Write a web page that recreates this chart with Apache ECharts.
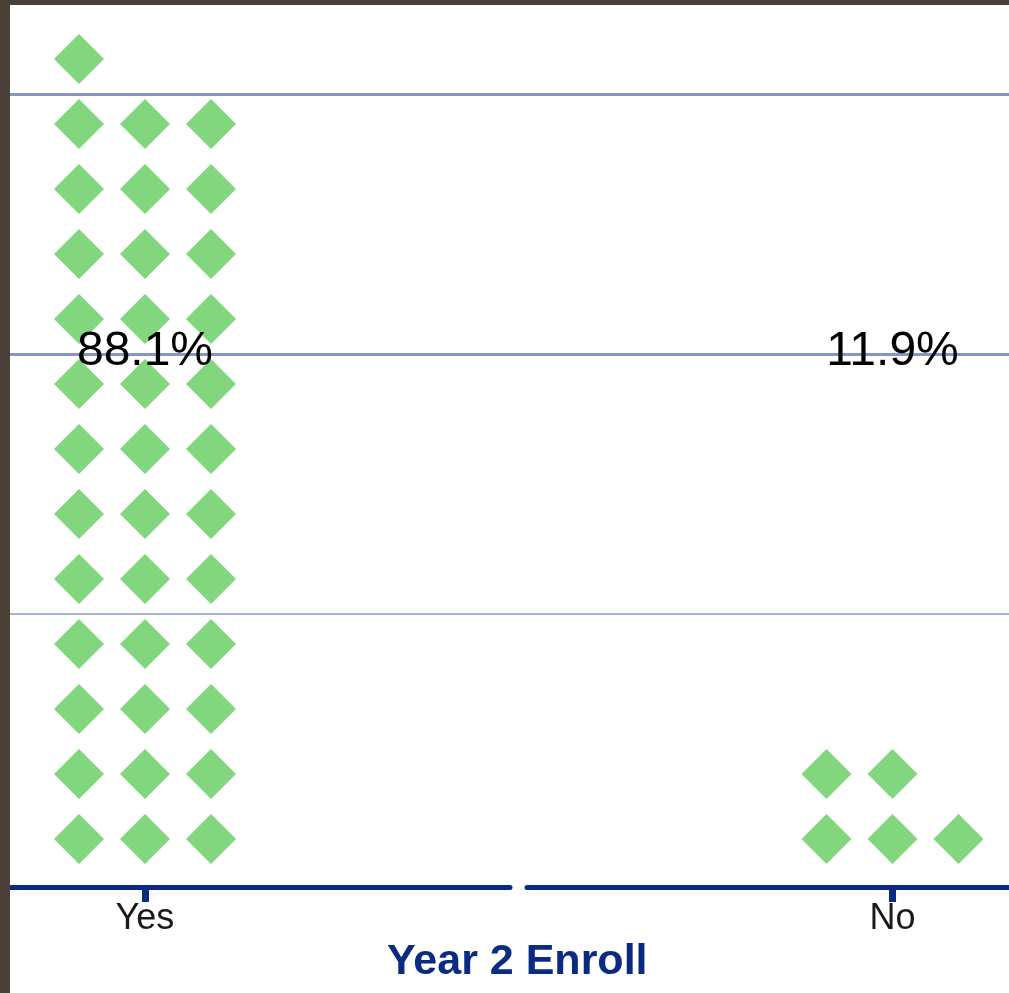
<!DOCTYPE html>
<html><head><meta charset="utf-8">
<script src="https://cdn.jsdelivr.net/npm/echarts@6/dist/echarts.min.js"></script>
<style>
html,body{margin:0;padding:0;width:1009px;height:993px;overflow:hidden;background:#4b4036;}
#chart{position:absolute;left:10px;top:5px;width:999px;height:988px;background:#fff;}
</style></head><body><div id="chart"></div>
<script>
// ---- data ----
const categories = ['Yes', 'No'];
const counts = [37, 5];
const percentLabels = ['88.1%', '11.9%'];
const dotsPerRow = 3;
const referenceLines = [3.46, 7.46, 11.45];
const labelRow = 7.5;

// ---- layout / style ----
const NAVY = '#0b2a82';
const GREEN = '#82d67e';
const FONT = 'Liberation Sans';
const Y_MIN = -0.7385, Y_MAX = 12.83;
const panelX = [{min: -2.045, max: 5.53}, {min: -5.538, max: 1.765}];

function dots(count) {
  const pts = [];
  for (let i = 0; i < count; i++) {
    pts.push([(i % dotsPerRow) - 1, Math.floor(i / dotsPerRow)]);
  }
  return pts;
}

const chart = echarts.init(document.getElementById('chart'), null, {renderer: 'canvas'});

const grids = [
  {left: 0, right: 0, top: 0, bottom: 106},
  {left: 0, width: 500, top: 0, bottom: 106},
  {left: 517, right: 0, top: 0, bottom: 106}
];
const xAxes = [{gridIndex: 0, type: 'value', min: 0, max: 1, show: false}];
const yAxes = [0, 1, 2].map(g => ({gridIndex: g, type: 'value', min: Y_MIN, max: Y_MAX, show: false}));
categories.forEach((c, i) => {
  xAxes.push({
    gridIndex: i + 1, type: 'value', min: panelX[i].min, max: panelX[i].max,
    position: 'bottom',
    axisLine: {show: true, onZero: false, lineStyle: {color: NAVY, width: 5}},
    axisTick: {show: true, customValues: [0], length: 15, lineStyle: {color: NAVY, width: 7}},
    axisLabel: {show: true, customValues: [0], margin: 14, formatter: () => c,
      fontFamily: FONT, fontSize: 36, color: '#1a1a1a'},
    splitLine: {show: false}
  });
});

const series = [{
  type: 'scatter', xAxisIndex: 0, yAxisIndex: 0, data: [], silent: true, z: 1,
  markLine: {
    silent: true, symbol: 'none', animation: false,
    label: {show: false},
    data: referenceLines.map((v, k) => ({yAxis: v,
      lineStyle: {color: k === 0 ? '#a6b3d9' : '#8595c5', width: k === 0 ? 2 : 3, type: 'solid'}}))
  }
}];
categories.forEach((c, i) => {
  series.push({
    type: 'scatter', xAxisIndex: i + 1, yAxisIndex: i + 1,
    data: dots(counts[i]), symbol: 'diamond', symbolSize: 50,
    itemStyle: {color: GREEN, opacity: 1}, z: 3, silent: true
  });
  series.push({
    type: 'scatter', xAxisIndex: i + 1, yAxisIndex: i + 1,
    data: [[0, labelRow]], symbolSize: 0, z: 5, silent: true,
    itemStyle: {color: '#000', opacity: 1},
    label: {show: true, position: 'inside', formatter: percentLabels[i],
      fontFamily: FONT, fontSize: 48, color: '#000', textBorderWidth: 0,
      textBorderColor: 'transparent'}
  });
});

chart.setOption({
  animation: false,
  title: {text: 'Year 2 Enroll', left: 372, top: 931,
    textStyle: {fontFamily: FONT, fontSize: 43, fontWeight: 'bold', color: NAVY}},
  grid: grids, xAxis: xAxes, yAxis: yAxes, series: series
});
</script></body></html>
